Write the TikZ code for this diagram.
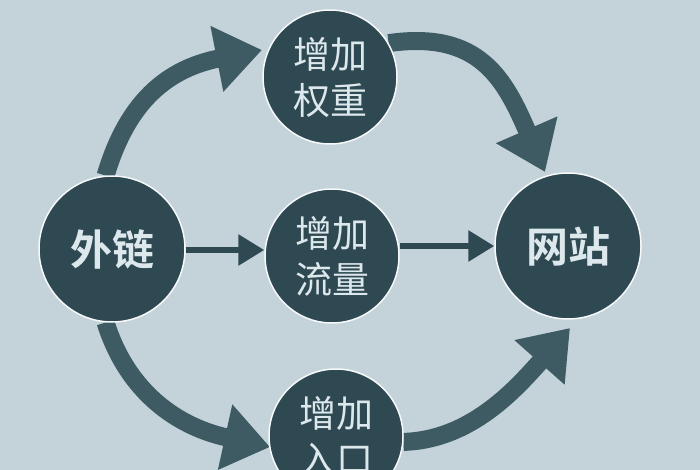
\documentclass[tikz,border=0pt]{standalone}
\usepackage{fontspec}
\newfontfamily\cjk{Noto Sans CJK SC}
\newfontfamily\cjkb{Noto Sans CJK SC Bold}
\usetikzlibrary{arrows.meta,backgrounds}
\definecolor{bgblue}{HTML}{C4D3DA}
\definecolor{ballslate}{HTML}{2E4952}
\definecolor{arrowslate}{HTML}{3E5B64}
\definecolor{textgray}{HTML}{DDE8EC}
\tikzset{
  ball/.style={circle, fill=ballslate, draw=white!85!bgblue, line width=1.5pt,
    minimum size=#1, inner sep=0pt, text=textgray, align=center},
  ball/.default=134pt,
  bigflow/.style={draw=arrowslate, line width=18pt,
    -{Triangle[length=46pt, width=64pt]}},
  smallflow/.style={draw=ballslate, line width=6pt,
    -{Triangle[length=26pt, width=30pt]}}
}
\begin{document}
\begin{tikzpicture}[x=1pt,y=1pt,yscale=-1]
    \useasboundingbox (0,0) rectangle (700,470);

    % circles
    \node[ball=146pt, font=\cjkb\fontsize{42}{46}\selectfont] (wailian) at (112,249) {外链};
    \node[ball, font=\cjk\fontsize{37}{46}\selectfont] (quanzhong) at (330,77) {增加\\权重};
    \node[ball, font=\cjk\fontsize{37}{46}\selectfont] (liuliang) at (332,256) {增加\\流量};
    \node[ball=146pt, font=\cjkb\fontsize{42}{46}\selectfont] (wangzhan) at (568,246) {网站};
    \node[ball, font=\cjk\fontsize{37}{46}\selectfont] (rukou) at (336,436) {增加\\入口};

    % curved flows
    \begin{scope}[on background layer]
    \fill[bgblue] (0,0) rectangle (700,470);
    \draw[bigflow] (wailian.95) .. controls (125,110) and (160,70) .. (262,50);
    \draw[bigflow] (quanzhong.30) .. controls (480,30) and (505,80) .. (545,172);
    \draw[bigflow] (wailian.-95) .. controls (125,385) and (170,425) .. (270,447);
    \draw[bigflow] (rukou.-5) .. controls (470,440) and (515,390) .. (570,328);
    \end{scope}

    % straight flows
    \draw[smallflow] (wailian.east |- 0,250) -- (liuliang.west |- 0,250);
    \draw[smallflow] (liuliang.east |- 0,246) -- (wangzhan.west |- 0,246);
\end{tikzpicture}
\end{document}
